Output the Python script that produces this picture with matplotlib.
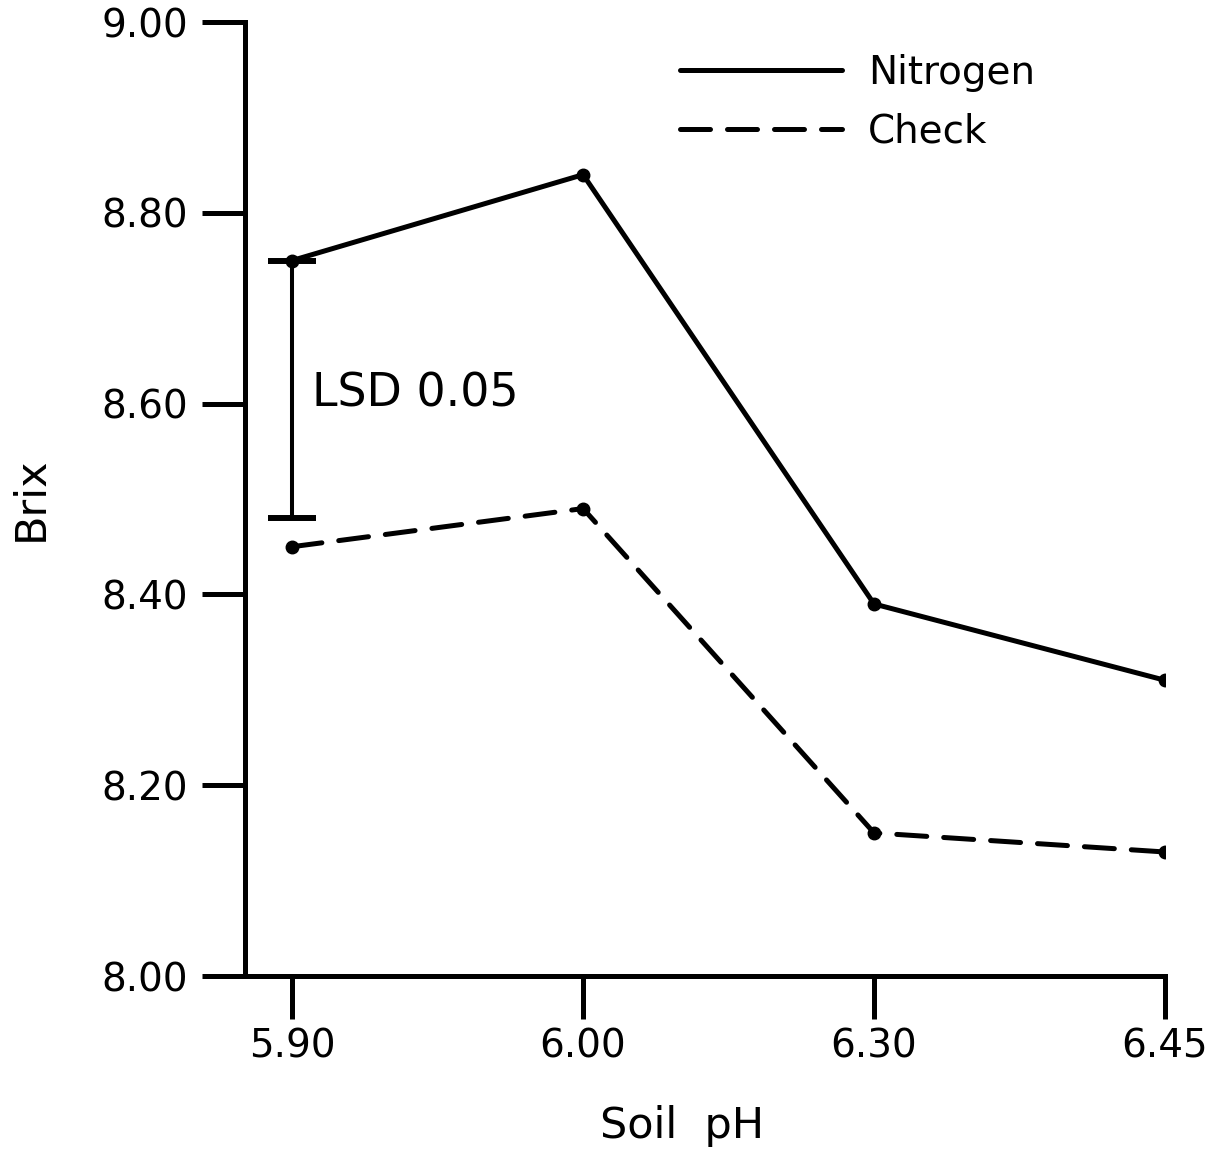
import matplotlib
matplotlib.use('Agg')
from matplotlib import pyplot as plt

ph_labels = ["5.90", "6.00", "6.30", "6.45"]
nitrogen = [8.75, 8.84, 8.39, 8.31]
check = [8.45, 8.49, 8.15, 8.13]
lsd_low = 8.48
lsd_high = 8.75
yticks = [8.00, 8.20, 8.40, 8.60, 8.80, 9.00]

xpos = list(range(len(ph_labels)))

fig = plt.figure(figsize=(12.28, 11.53), dpi=100)
ax = fig.add_axes([0.1995, 0.1535, 0.7492, 0.8274])

ax.plot(xpos, nitrogen, color='black', lw=3.6, marker='o', ms=9,
        solid_capstyle='round', label='Nitrogen')
ax.plot(xpos, check, color='black', lw=3.6, marker='o', ms=9,
        dashes=(6, 3.4), dash_capstyle='round', label='Check')

# LSD bar at first pH
mid = (lsd_low + lsd_high) / 2
ax.errorbar([xpos[0]], [mid], yerr=[[mid - lsd_low], [lsd_high - mid]],
            fmt='none', ecolor='black', elinewidth=2.9, capsize=17, capthick=4.3)
ax.text(0.07, 8.61, "LSD 0.05", fontsize=33, va='center', ha='left')

ax.set_xlim(-0.162, 3.0)
ax.set_ylim(8.0, 9.0)
ax.set_xticks(xpos)
ax.set_xticklabels(ph_labels)
ax.set_yticks(yticks)
ax.set_yticklabels([f"{v:.2f}" for v in yticks])
ax.tick_params(axis='both', length=31, width=3.6, labelsize=28)
ax.tick_params(axis='y', pad=10)
ax.tick_params(axis='x', pad=6)

for side in ['top', 'right']:
    ax.spines[side].set_visible(False)
for side in ['left', 'bottom']:
    ax.spines[side].set_linewidth(3.6)

ax.set_xlabel("Soil  pH", fontsize=31)
ax.xaxis.set_label_coords(0.475, -0.135)
ax.set_ylabel("Brix", fontsize=31, labelpad=36)

ax.legend(loc='upper left', bbox_to_anchor=(0.4728, 0.967), frameon=False,
          fontsize=28, handlelength=4.17, handletextpad=0.67, labelspacing=0.55,
          borderpad=0, borderaxespad=0, markerscale=0)

fig.savefig("out.png", dpi=100)
